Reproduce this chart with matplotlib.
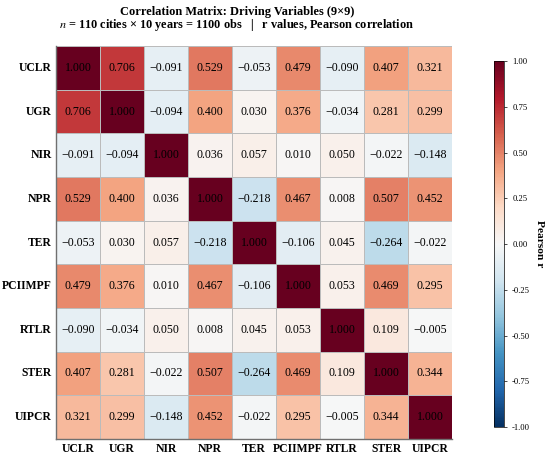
import numpy as np
import matplotlib
matplotlib.use("Agg")
import matplotlib.pyplot as plt
import seaborn as sns

plt.rcParams['font.family'] = ['Liberation Serif', 'DejaVu Serif']
plt.rcParams['mathtext.fontset'] = 'stix'

variables = ["UCLR", "UGR", "NIR", "NPR", "TER", "PCIIMPF", "RTLR", "STER", "UIPCR"]

r_uclr = [1.000, 0.706, -0.091, 0.529, -0.053, 0.479, -0.090, 0.407, 0.321]
r_ugr = [0.706, 1.000, -0.094, 0.400, 0.030, 0.376, -0.034, 0.281, 0.299]
r_nir = [-0.091, -0.094, 1.000, 0.036, 0.057, 0.010, 0.050, -0.022, -0.148]
r_npr = [0.529, 0.400, 0.036, 1.000, -0.218, 0.467, 0.008, 0.507, 0.452]
r_ter = [-0.053, 0.030, 0.057, -0.218, 1.000, -0.106, 0.045, -0.264, -0.022]
r_pciimpf = [0.479, 0.376, 0.010, 0.467, -0.106, 1.000, 0.053, 0.469, 0.295]
r_rtlr = [-0.090, -0.034, 0.050, 0.008, 0.045, 0.053, 1.000, 0.109, -0.005]
r_ster = [0.407, 0.281, -0.022, 0.507, -0.264, 0.469, 0.109, 1.000, 0.344]
r_uipcr = [0.321, 0.299, -0.148, 0.452, -0.022, 0.295, -0.005, 0.344, 1.000]

corr = np.array([r_uclr, r_ugr, r_nir, r_npr, r_ter, r_pciimpf, r_rtlr, r_ster, r_uipcr])
labels = np.array([[format(v, ".3f").replace("-", "\u2212") for v in row] for row in corr])

fig = plt.figure(figsize=(5.5, 4.58), dpi=100)
ax = fig.add_axes([0.102, 0.0415, 0.720, 0.858])
cax = fig.add_axes([0.898, 0.0677, 0.018, 0.799])

sns.heatmap(corr, ax=ax, cbar_ax=cax, cmap="RdBu_r", vmin=-1, vmax=1,
            annot=labels, fmt="", annot_kws={"size": 8.6, "color": "black"},
            linewidths=0.7, linecolor="#bbbbbb",
            xticklabels=variables, yticklabels=variables)

for side in ["left", "bottom"]:
    ax.spines[side].set_visible(True)
    ax.spines[side].set_color("#707070")
    ax.spines[side].set_linewidth(1.0)

ax.tick_params(length=0, pad=3)
for t in ax.get_xticklabels():
    t.set_fontweight("bold")
    t.set_fontsize(8.4)
    t.set_rotation(0)
for t in ax.get_yticklabels():
    t.set_fontweight("bold")
    t.set_fontsize(8.4)
    t.set_rotation(0)

cb = ax.collections[0].colorbar
cb.set_ticks([-1, -0.75, -0.5, -0.25, 0, 0.25, 0.5, 0.75, 1])
cb.ax.yaxis.set_major_formatter(matplotlib.ticker.FormatStrFormatter("%.2f"))
cb.ax.tick_params(labelsize=6.2, length=2.5, width=0.5)
cb.outline.set_visible(True)
cb.outline.set_linewidth(0.5)
cb.set_label("Pearson r", fontsize=8.2, fontweight="bold", rotation=270, va="center")
cb.ax.yaxis.set_label_coords(4.6, 0.5)

fig.text(0.431, 0.9745, "Correlation Matrix: Driving Variables (9\u00d79)",
         ha="center", va="center", fontsize=8.9, fontweight="bold")
fig.text(0.431, 0.945, "$n$ = 110 cities \u00d7 10 years = 1100 obs   |   r values, Pearson correlation",
         ha="center", va="center", fontsize=8.8, fontweight="bold")

fig.savefig("out.png", dpi=100)
